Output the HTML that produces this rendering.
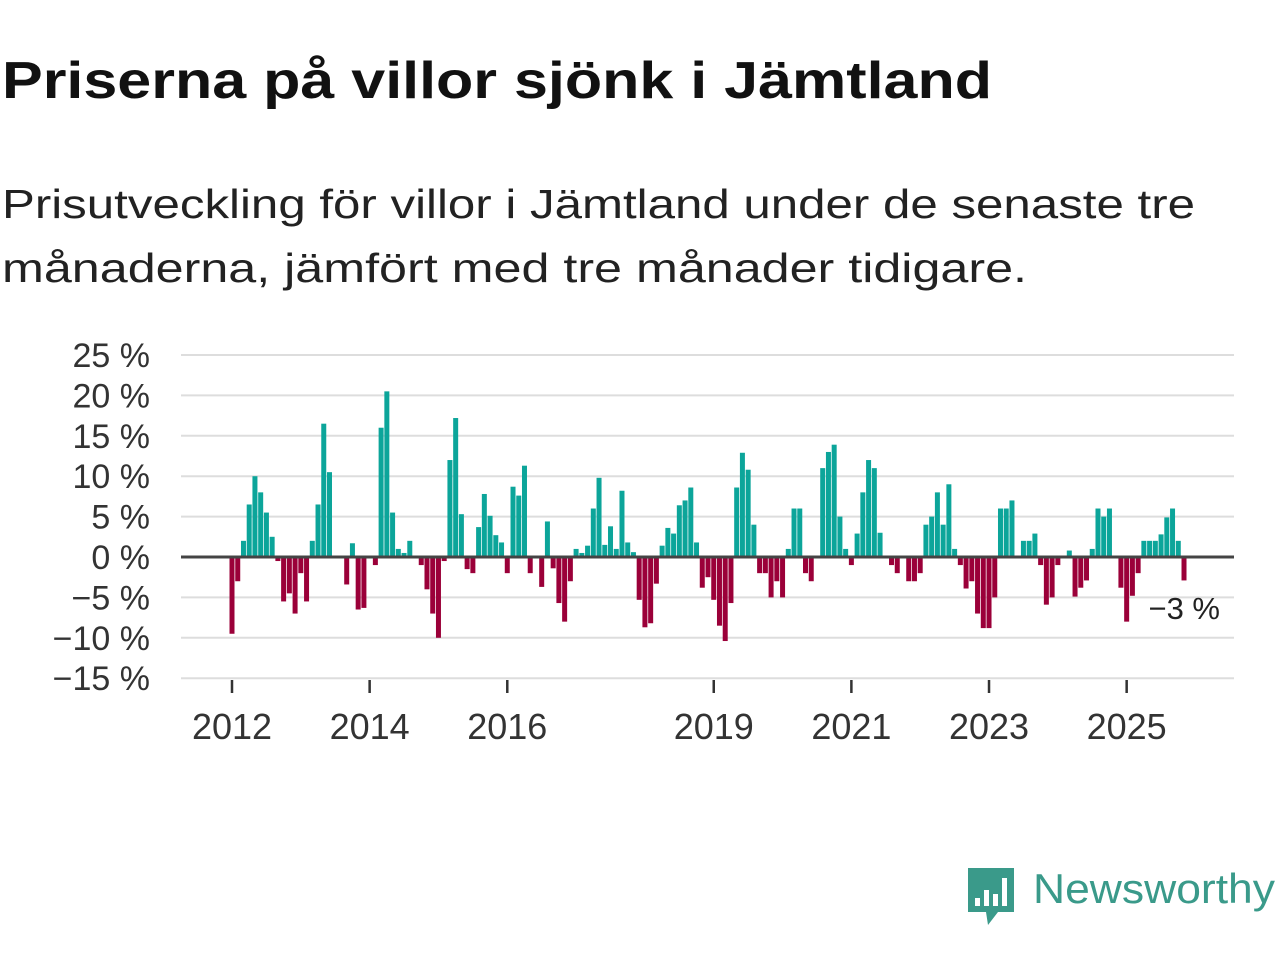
<!DOCTYPE html>
<html><head><meta charset="utf-8"><style>
html,body{margin:0;padding:0;background:#fff;}
svg{display:block;font-family:"Liberation Sans",sans-serif;}
</style></head><body>
<svg width="1280" height="960" viewBox="0 0 1280 960">
<text x="2" y="98" font-size="52" font-weight="bold" fill="#111" textLength="990" lengthAdjust="spacingAndGlyphs">Priserna på villor sjönk i Jämtland</text>
<text x="2" y="218" font-size="41" fill="#222" textLength="1193" lengthAdjust="spacingAndGlyphs">Prisutveckling för villor i Jämtland under de senaste tre</text>
<text x="2" y="282" font-size="41" fill="#222" textLength="1025" lengthAdjust="spacingAndGlyphs">månaderna, jämfört med tre månader tidigare.</text>
<g id="grid"></g><g id="bars"></g><g id="axes"></g>
<text x="1220" y="619" font-size="31" fill="#222" text-anchor="end">−3 %</text>
<g>
<path d="M968 868 H1014 V912 H998 L988 925 L986 912 H968 Z" fill="#3a9a8a"/>
<rect x="975" y="898" width="5" height="8" fill="#fff"/><rect x="984" y="890" width="5" height="16" fill="#fff"/><rect x="993" y="894" width="5" height="12" fill="#fff"/><rect x="1002" y="878" width="5" height="28" fill="#fff"/>
<text x="1033" y="903" font-size="42" fill="#3a9a8a" textLength="242" lengthAdjust="spacingAndGlyphs">Newsworthy</text>
</g>
</svg>
<script>
const startYear = 2012;
const values = [-9.5,-3,2,6.5,10,8,5.5,2.5,-0.5,-5.5,-4.5,-7,-2,-5.5,2,6.5,16.5,10.5,0,0,-3.4,1.7,-6.5,-6.3,0,-1,16,20.5,5.5,1,0.5,2,0,-1,-4,-7,-10,-0.5,12,17.2,5.3,-1.5,-2,3.7,7.8,5.1,2.7,1.8,-2,8.7,7.6,11.3,-2,0,-3.7,4.4,-1.4,-5.7,-8,-3,1,0.5,1.4,6,9.8,1.5,3.8,1,8.2,1.8,0.6,-5.3,-8.7,-8.2,-3.3,1.4,3.6,2.9,6.4,7,8.6,1.8,-3.8,-2.5,-5.3,-8.5,-10.4,-5.7,8.6,12.9,10.8,4,-2,-2,-5,-3,-5,1,6,6,-2,-3,0,11,13,13.9,5,1,-1,2.9,8,12,11,3,0,-1,-2,0,-3,-3,-2,4,5,8,4,9,1,-1,-3.9,-3,-7,-8.8,-8.8,-5,6,6,7,0,2,2,2.9,-1,-5.9,-5,-1,0,0.8,-4.9,-3.8,-2.9,1,6,5,6,0,-3.8,-8,-4.8,-2,2,2,2,2.8,4.9,6,2,-2.9];
const yTicks = [25,20,15,10,5,0,-5,-10,-15];
const yTickLabels = ["25 %","20 %","15 %","10 %","5 %","0 %","−5 %","−10 %","−15 %"];
const xTickYears = [2012,2014,2016,2019,2021,2023,2025];
const NS="http://www.w3.org/2000/svg";
const y = v => 557 - v*8.08;
const x = i => 232 + i*5.735;
function mk(tag, attrs, parent){const e=document.createElementNS(NS,tag);for(const k in attrs)e.setAttribute(k,attrs[k]);parent.appendChild(e);return e;}
const grid=document.getElementById('grid'), bars=document.getElementById('bars'), axes=document.getElementById('axes');
yTicks.forEach((t,k)=>{
  if(t!==0){const l=mk('line',{x1:181,x2:1234,y1:y(t),y2:y(t),stroke:'#ddd','stroke-width':2},grid);
  
  }
  const tx=mk('text',{x:150,y:y(t)+12,'font-size':34,fill:'#333','text-anchor':'end'},axes);
  tx.textContent=yTickLabels[k];
  
  
});
values.forEach((v,i)=>{
  const r=mk('rect',{x:x(i)-2.5,width:5,y:Math.min(y(v),y(0)),height:Math.abs(y(v)-y(0)),fill:v>=0?'#0ca59a':'#9b0039'},bars);
  
  
});
const z=mk('line',{x1:181,x2:1234,y1:y(0),y2:y(0),stroke:'#444','stroke-width':3},axes);


xTickYears.forEach(yr=>{
  const xi=x((yr-startYear)*12);
  const tk=mk('line',{x1:xi,x2:xi,y1:680,y2:693,stroke:'#333','stroke-width':2.5},axes);
  
  
  const t=mk('text',{x:xi,y:739,'font-size':36,fill:'#333','text-anchor':'middle'},axes);
  t.textContent=yr;
  
  
});
</script>
</body></html>
